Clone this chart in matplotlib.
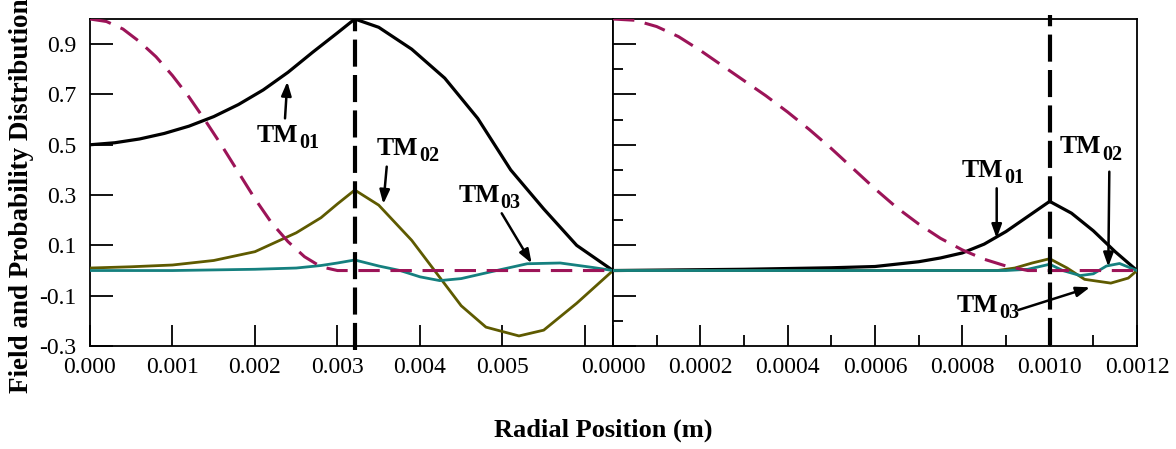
import matplotlib
matplotlib.use("Agg")
import matplotlib.pyplot as plt
from matplotlib.ticker import FixedLocator

plt.rcParams['font.family'] = ['Liberation Serif', 'DejaVu Serif']

# ---------------- data ----------------
# left panel (radial position in m)
L_XMAX = 0.00634
L_IFACE = 0.00321

l_prob_x = [0, 0.0002, 0.0004, 0.0006, 0.0008, 0.001, 0.0012, 0.0014, 0.0016, 0.0018,
            0.002, 0.0022, 0.0024, 0.0026, 0.0028, 0.003, 0.0032, 0.00634]
l_prob_y = [1.0, 0.99, 0.96, 0.91, 0.85, 0.775, 0.69, 0.595, 0.495, 0.39,
            0.285, 0.19, 0.115, 0.055, 0.015, 0.0, 0.0, 0.0]

l_tm01_x = [0, 0.0003, 0.0006, 0.0009, 0.0012, 0.0015, 0.0018, 0.0021, 0.0024, 0.0027, 0.003,
            0.00321, 0.0035, 0.0039, 0.0043, 0.0047, 0.0051, 0.0055, 0.0059, 0.00634]
l_tm01_y = [0.50, 0.508, 0.523, 0.545, 0.574, 0.612, 0.66, 0.718, 0.788, 0.868, 0.945,
            1.0, 0.967, 0.88, 0.765, 0.605, 0.40, 0.245, 0.10, 0.0]

l_tm02_x = [0, 0.0005, 0.001, 0.0015, 0.002, 0.0025, 0.0028, 0.003, 0.00321, 0.0035, 0.0039,
            0.0042, 0.0045, 0.0048, 0.0052, 0.0055, 0.0059, 0.00634]
l_tm02_y = [0.01, 0.015, 0.022, 0.04, 0.075, 0.15, 0.21, 0.265, 0.32, 0.26, 0.12,
            -0.01, -0.14, -0.225, -0.26, -0.237, -0.13, 0.0]

l_tm03_x = [0, 0.001, 0.002, 0.0025, 0.0028, 0.003, 0.00321, 0.0035, 0.00376, 0.004, 0.00424,
            0.0045, 0.0049, 0.0053, 0.0057, 0.0061, 0.00634]
l_tm03_y = [0.0, 0.0, 0.005, 0.01, 0.02, 0.03, 0.042, 0.018, 0.0, -0.025, -0.04,
            -0.032, -0.002, 0.027, 0.03, 0.012, 0.0]

# right panel
R_XMAX = 0.0012
R_IFACE = 0.001

r_prob_x = [0, 0.00005, 0.0001, 0.00015, 0.0002, 0.00025, 0.0003, 0.00035, 0.0004, 0.00045,
            0.0005, 0.00055, 0.0006, 0.00065, 0.0007, 0.00075, 0.0008, 0.00085, 0.0009,
            0.00095, 0.0012]
r_prob_y = [1.0, 0.995, 0.97, 0.93, 0.875, 0.815, 0.755, 0.695, 0.63, 0.56,
            0.485, 0.405, 0.325, 0.25, 0.185, 0.128, 0.082, 0.045, 0.018,
            0.0, 0.0]

r_tm01_x = [0, 0.0003, 0.0004, 0.0005, 0.0006, 0.0007, 0.00075, 0.0008, 0.00085, 0.0009,
            0.00095, 0.001, 0.00105, 0.0011, 0.00115, 0.0012]
r_tm01_y = [0.0, 0.005, 0.008, 0.011, 0.016, 0.035, 0.05, 0.07, 0.105, 0.155,
            0.215, 0.275, 0.228, 0.158, 0.075, 0.0]

r_tm02_x = [0, 0.00088, 0.00092, 0.00096, 0.001, 0.00104, 0.00108, 0.00114, 0.00118, 0.0012]
r_tm02_y = [0.0, 0.0, 0.01, 0.03, 0.047, 0.01, -0.035, -0.05, -0.03, 0.0]

r_tm03_x = [0, 0.0009, 0.00095, 0.001, 0.00103, 0.00107, 0.0011, 0.00113, 0.00116, 0.0012]
r_tm03_y = [0.0, 0.0, 0.005, 0.025, 0.0, -0.02, -0.013, 0.018, 0.028, 0.0]

y_ticks = [-0.3, -0.1, 0.1, 0.3, 0.5, 0.7, 0.9]
y_labels = ['-0.3', '-0.1', '0.1', '0.3', '0.5', '0.7', '0.9']
y_minor = [-0.2, 0.0, 0.2, 0.4, 0.6, 0.8]
l_xticks = [0, 0.001, 0.002, 0.003, 0.004, 0.005, 0.006]
l_xlabels = ['0.000', '0.001', '0.002', '0.003', '0.004', '0.005', '']
r_xticks = [0, 0.0002, 0.0004, 0.0006, 0.0008, 0.001, 0.0012]
r_xlabels = ['0.0000', '0.0002', '0.0004', '0.0006', '0.0008', '0.0010', '0.0012']
r_xminor = [0.0001, 0.0003, 0.0005, 0.0007, 0.0009, 0.0011]

# annotations: (text pos, subscript, arrow tail, arrow head)
l_annot = [
    ((0.002021, 0.512), '01', (0.002364, 0.605), (0.002392, 0.751)),
    ((0.003476, 0.459), '02', (0.003597, 0.413), (0.003556, 0.2645)),
    ((0.004465, 0.274), '03', (0.004991, 0.2275), (0.005354, 0.0288)),
]
r_annot = [
    ((0.0007985, 0.373), '01', (0.0008787, 0.327), (0.0008787, 0.128)),
    ((0.0010237, 0.466), '02', (0.0011366, 0.393), (0.0011343, 0.0153)),
    ((0.0007871, -0.164), '03', (0.000928, -0.157), (0.0010924, -0.0667)),
]

C_BLACK = '#000000'
C_OLIVE = '#5e5a00'
C_TEAL = '#15807f'
C_PROB = '#9c1458'

# ---------------- figure ----------------
fig = plt.figure(figsize=(11.76, 4.49), dpi=100)
axL = fig.add_axes([90/1176, 1-346/449, 523/1176, 327/449])
axR = fig.add_axes([613/1176, 1-346/449, 524/1176, 327/449])


def draw(ax, prob, t1, t2, t3, iface, vtop, vbot):
    ax.plot(t1[0], t1[1], color=C_BLACK, lw=2.3, solid_joinstyle='round', zorder=3)
    ax.plot(t2[0], t2[1], color=C_OLIVE, lw=2.0, solid_joinstyle='round', zorder=4)
    ax.plot(t3[0], t3[1], color=C_TEAL, lw=2.0, solid_joinstyle='round', zorder=5)
    ax.plot(prob[0], prob[1], color=C_PROB, lw=2.2, dashes=(7, 3.5), zorder=6)
    ax.plot([iface, iface], [vbot, vtop], color='black', lw=3.0, dashes=(6.5, 2),
            clip_on=False, zorder=7)


draw(axL, (l_prob_x, l_prob_y), (l_tm01_x, l_tm01_y), (l_tm02_x, l_tm02_y),
     (l_tm03_x, l_tm03_y), L_IFACE, 1.0, -0.316)
draw(axR, (r_prob_x, r_prob_y), (r_tm01_x, r_tm01_y), (r_tm02_x, r_tm02_y),
     (r_tm03_x, r_tm03_y), R_IFACE, 1.016, -0.296)

for ax in (axL, axR):
    ax.set_ylim(-0.3, 1.0)
    for s in ax.spines.values():
        s.set_linewidth(1.3)

axL.set_xlim(0, L_XMAX)
axR.set_xlim(0, R_XMAX)

TICK_FS = 17

# left ticks
axL.xaxis.set_major_locator(FixedLocator(l_xticks))
axL.set_xticklabels(l_xlabels)
axL.yaxis.set_major_locator(FixedLocator(y_ticks))
axL.set_yticklabels(y_labels)
axL.tick_params(axis='both', which='major', direction='in', labelsize=TICK_FS, width=1.3)
axL.tick_params(axis='y', length=16.5, pad=10)
axL.tick_params(axis='x', length=15, pad=8)

# right ticks
axR.xaxis.set_major_locator(FixedLocator(r_xticks))
axR.set_xticklabels(r_xlabels)
axR.xaxis.set_minor_locator(FixedLocator(r_xminor))
axR.yaxis.set_major_locator(FixedLocator(y_ticks))
axR.yaxis.set_minor_locator(FixedLocator(y_minor))
axR.tick_params(axis='both', which='both', direction='in', labelsize=TICK_FS, width=1.3)
axR.tick_params(axis='y', which='both', labelleft=False)
axR.tick_params(axis='y', which='major', length=16.5)
axR.tick_params(axis='y', which='minor', length=7.5)
axR.tick_params(axis='x', which='major', length=15, pad=8)
axR.tick_params(axis='x', which='minor', length=8)

# annotations
for ax, annots in ((axL, l_annot), (axR, r_annot)):
    for (tpos, sub, tail, head) in annots:
        tm = ax.text(tpos[0], tpos[1], 'TM', fontsize=18.5, fontweight='bold',
                     ha='left', va='baseline', zorder=8)
        ax.annotate(sub, xy=(1, 0), xycoords=tm, xytext=(0.5, -4.5),
                    textcoords='offset points', fontsize=14.5, fontweight='bold',
                    ha='left', va='bottom', zorder=8)
        ax.annotate('', xy=head, xytext=tail,
                    arrowprops=dict(arrowstyle='-|>,head_length=0.55,head_width=0.2',
                                    color='black', lw=1.8, shrinkA=0, shrinkB=0,
                                    mutation_scale=15), zorder=8)

fig.text(22/1176, 1-393/449, 'Field and Probability Distribution', rotation=90,
         fontsize=19.5, fontweight='bold', ha='center', va='bottom')
fig.text(603/1176, 1-430/449, 'Radial Position (m)', fontsize=19,
         fontweight='bold', ha='center', va='center')

fig.savefig('out.png', dpi=100)
